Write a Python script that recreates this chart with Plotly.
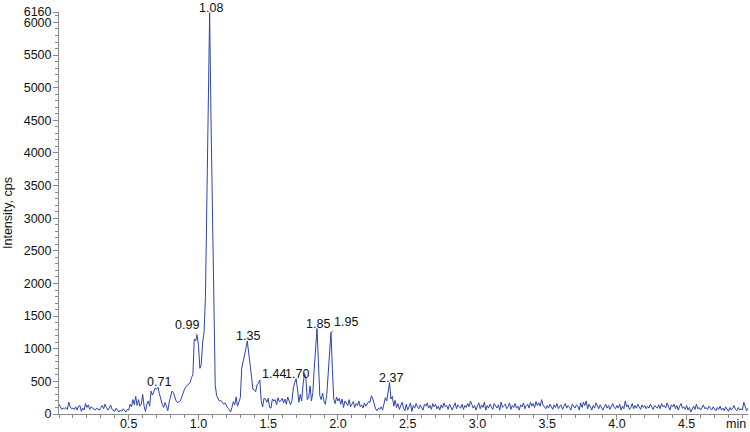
import plotly.graph_objects as go

# scan grid of the chromatogram (min)
scan_start = 0.0
scan_step = 0.01

# intensity (cps), one row per 0.1 min
intensity = [
    150, 110, 70, 90, 80, 100, 70, 180, 110, 80,        # 0.0
    90, 70, 110, 60, 120, 130, 40, 90, 60, 160,         # 0.1
    100, 140, 70, 110, 90, 80, 60, 90, 70, 60,          # 0.2
    100, 130, 80, 150, 100, 60, 90, 140, 70, 50,        # 0.3
    40, 90, 50, 30, 60, 40, 80, 60, 30, 70,             # 0.4
    60, 150, 110, 220, 140, 270, 130, 220, 120, 150,    # 0.5
    300, 120, 40, 150, 200, 120, 350, 290, 360, 400,    # 0.6
    380, 410, 310, 220, 150, 100, 175, 120, 50, 180,    # 0.7
    270, 350, 330, 270, 200, 175, 190, 200, 260, 330,   # 0.8
    380, 420, 440, 460, 480, 560, 600, 1150, 1120, 1210,  # 0.9
    1050, 700, 760, 1100, 1250, 1800, 3300, 4800, 6150, 4500,  # 1.0
    2900, 1400, 450, 280, 230, 200, 210, 180, 150, 170,  # 1.1
    120, 90, 70, 30, 100, 190, 140, 260, 120, 200,      # 1.2
    250, 700, 790, 900, 1000, 1120, 960, 780, 580, 380,  # 1.3
    370, 340, 450, 470, 520, 200, 110, 240, 230, 180,   # 1.4
    240, 100, 90, 230, 200, 220, 140, 250, 190, 200,    # 1.5
    240, 170, 230, 150, 260, 200, 140, 200, 400, 480,   # 1.6
    540, 380, 180, 300, 200, 450, 620, 560, 220, 250,   # 1.7
    430, 200, 330, 700, 1050, 1310, 800, 280, 220, 320,  # 1.8
    190, 150, 300, 600, 1000, 1250, 700, 230, 160, 260,  # 1.9
    200, 240, 150, 230, 100, 200, 170, 130, 220, 110,   # 2.0
    150, 190, 100, 160, 130, 200, 110, 140, 90, 170,    # 2.1
    120, 150, 190, 180, 280, 230, 150, 80, 50, 90,      # 2.2
    70, 110, 60, 150, 250, 200, 330, 480, 230, 270,     # 2.3
    120, 210, 100, 160, 70, 130, 180, 90, 50, 150,      # 2.4
    60, 110, 170, 40, 130, 90, 160, 110, 80, 140,       # 2.5
    100, 60, 150, 120, 170, 90, 130, 70, 160, 110,      # 2.6
    150, 80, 120, 60, 140, 90, 170, 110, 130, 70,       # 2.7
    150, 100, 60, 120, 170, 80, 140, 110, 90, 150,      # 2.8
    70, 130, 100, 160, 110, 200, 140, 90, 130, 60,      # 2.9
    120, 170, 80, 140, 100, 180, 60, 130, 90, 150,      # 3.0
    110, 70, 160, 120, 90, 140, 60, 180, 100, 130,      # 3.1
    150, 80, 110, 170, 70, 130, 100, 160, 90, 120,      # 3.2
    60, 140, 110, 170, 80, 130, 150, 90, 180, 120,      # 3.3
    160, 100, 190, 130, 170, 120, 220, 140, 110, 80,    # 3.4
    130, 90, 150, 110, 70, 140, 100, 160, 80, 120,      # 3.5
    140, 70, 110, 160, 90, 130, 100, 60, 150, 110,      # 3.6
    90, 140, 120, 60, 170, 100, 180, 130, 200, 80,      # 3.7
    150, 110, 60, 130, 90, 170, 120, 80, 140, 100,      # 3.8
    60, 110, 150, 90, 130, 70, 120, 160, 100, 80,       # 3.9
    130, 90, 150, 60, 120, 80, 200, 110, 140, 70,       # 4.0
    100, 160, 80, 130, 90, 150, 110, 70, 140, 100,      # 4.1
    130, 80, 120, 90, 150, 100, 70, 130, 110, 90,       # 4.2
    140, 80, 160, 110, 130, 90, 170, 100, 60, 140,      # 4.3
    110, 150, 80, 130, 60, 120, 160, 90, 110, 70,       # 4.4
    130, 60, 100, 30, 90, 120, 70, 150, 80, 100,        # 4.5
    60, 110, 140, 80, 100, 70, 120, 90, 60, 110,        # 4.6
    80, 50, 100, 70, 120, 60, 90, 50, 110, 70,          # 4.7
    40, 100, 60, 90, 130, 70, 50, 100, 60, 80,          # 4.8
    60, 180, 110, 50, 90,                               # 4.9
]
times = [round(scan_start + i * scan_step, 2) for i in range(len(intensity))]

# labelled peaks: retention time (min)
peak_labels = [0.71, 0.99, 1.08, 1.35, 1.44, 1.70, 1.85, 1.95, 2.37]
# labels drawn with a small leader line, offset of the text in px
leader_offsets = {0.99: (-10, -10), 1.44: (14, -6), 1.95: (15, -10)}

x_ticks = [0.5, 1.0, 1.5, 2.0, 2.5, 3.0, 3.5, 4.0, 4.5]
y_ticks = [0, 500, 1000, 1500, 2000, 2500, 3000, 3500, 4000, 4500, 5000, 5500, 6000, 6160]

FONT = "Liberation Sans"
LINE = "#2e45a8"
AXIS = "#8a8a8a"

fig = go.Figure()
fig.add_trace(go.Scatter(x=times, y=intensity, mode="lines",
                         line=dict(color=LINE, width=1), hoverinfo="x+y"))

lookup = dict(zip(times, intensity))
for rt in peak_labels:
    h = lookup[rt]
    if rt in leader_offsets:
        ax, ay = leader_offsets[rt]
        fig.add_annotation(x=rt, y=h, text=f"{rt:.2f}", showarrow=True,
                           arrowhead=0, arrowwidth=0.6, arrowcolor="#333",
                           ax=ax, ay=ay, standoff=0,
                           font=dict(family=FONT, size=12.5, color="#111"))
    else:
        fig.add_annotation(x=rt, y=h, text=f"{rt:.2f}", showarrow=False,
                           yanchor="bottom", xanchor="center", yshift=-4, xshift=1,
                           font=dict(family=FONT, size=12.5, color="#111"))

fig.add_annotation(x=1, y=0, xref="paper", yref="paper", text="min",
                   showarrow=False, xanchor="right", yanchor="top", yshift=-1,
                   font=dict(family=FONT, size=12.5, color="#111"))

fig.update_layout(
    width=750, height=432,
    margin=dict(l=59, r=2, t=12, b=18),
    paper_bgcolor="white", plot_bgcolor="white",
    showlegend=False,
    font=dict(family=FONT, size=12.5, color="#111"),
    xaxis=dict(range=[0, 4.94], tickmode="array", tickvals=x_ticks,
               ticktext=[f"{v:.1f}" for v in x_ticks], automargin=False,
               ticklabelstandoff=-7,
               showgrid=False, zeroline=False, showline=True, linecolor=AXIS,
               linewidth=1, ticks="outside", ticklen=5, tickcolor=AXIS,
               minor=dict(tickmode="linear", tick0=0, dtick=0.1, ticks="outside",
                          ticklen=3, tickcolor=AXIS)),
    yaxis=dict(range=[0, 6160], tickmode="array", tickvals=y_ticks,
               automargin=False, ticklabelstandoff=-1,
               title=dict(text="Intensity, cps", standoff=8,
                          font=dict(family=FONT, size=12.5)),
               showgrid=False, zeroline=False, showline=True, linecolor=AXIS,
               linewidth=1, ticks="outside", ticklen=5, tickcolor=AXIS,
               minor=dict(tickmode="linear", tick0=0, dtick=100, ticks="outside",
                          ticklen=3, tickcolor=AXIS)),
)

# the page's default body margin would shift the 750x432 figure
fig.write_html("out.html", config={"displayModeBar": False},
               post_script="document.body.style.margin='0';")
